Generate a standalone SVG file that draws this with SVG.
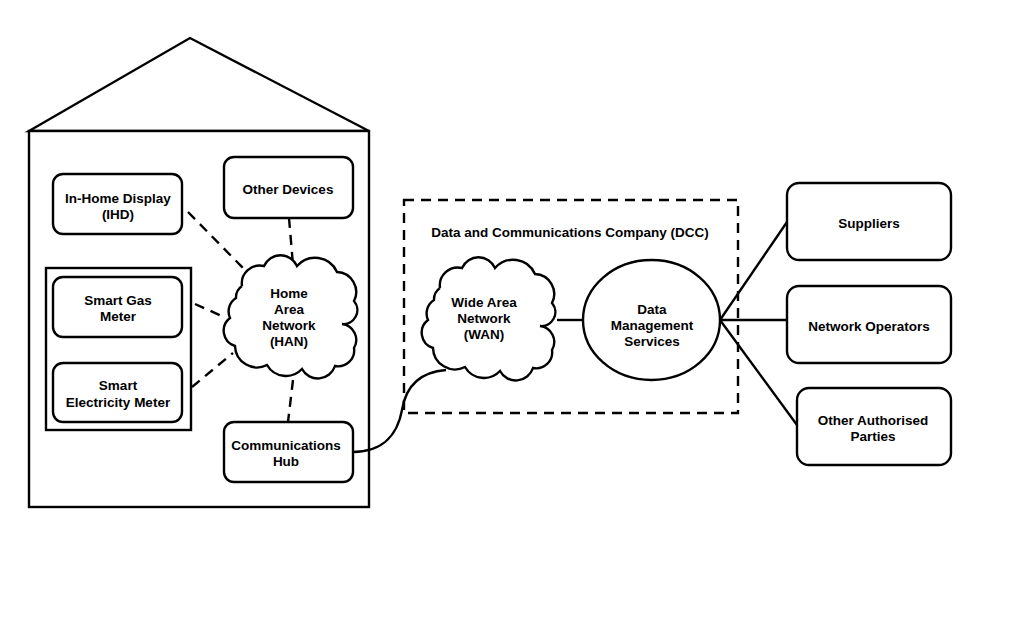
<svg xmlns="http://www.w3.org/2000/svg" xmlns:xlink="http://www.w3.org/1999/xlink" width="1019" height="624" viewBox="0 0 1019 624">
<style>
.s{fill:#fff;stroke:#000;stroke-width:2.4}
.n{fill:none;stroke:#000;stroke-width:2.4}
.d{fill:none;stroke:#000;stroke-width:2.4;stroke-dasharray:10 7}
text{font-family:"Liberation Sans",Arial,sans-serif;font-weight:bold;font-size:13.5px;fill:#000;text-anchor:middle}
</style>
<defs>
<path id="cloud" d="M-50,-30 A18,18 0 0 1 -28,-50 A18,18 0 0 1 5,-50 A24,24 0 0 1 45,-44 A20,20 0 0 1 62,-15 A14,14 0 0 1 50,8 M50,8 A16,16 0 0 1 62,32 A16,16 0 0 1 43,50 A18,18 0 0 1 10,53 A22,22 0 0 1 -25,49 A22,22 0 0 1 -57,30 A16,16 0 0 1 -62,2 A16,16 0 0 1 -56,-18 A14,14 0 0 1 -50,-30"/>
</defs>
<rect width="1019" height="624" fill="#fff"/>
<g id="house">
<polygon class="s" points="29,131 190,38 369,131"/>
<rect class="s" x="29" y="131" width="340" height="376"/>
</g>
<g id="meters">
<rect class="s" x="46" y="268" width="145" height="162"/>
</g>
<g id="dcc">
<rect class="d" x="404" y="200" width="334" height="213"/>
<text x="570" y="237">Data and Communications Company (DCC)</text>
</g>
<g id="connectors">
<line class="d" x1="188" y1="212" x2="243" y2="268"/>
<line class="d" x1="289" y1="218" x2="293" y2="265"/>
<line class="d" x1="195" y1="304" x2="224" y2="317"/>
<line class="d" x1="192" y1="387" x2="233" y2="353"/>
<line class="d" x1="293" y1="380" x2="288" y2="422"/>
<path class="n" d="M353,452 C385,452 398,432 402,410 C406,385 420,372 446,370"/>
<line class="n" x1="557" y1="320" x2="583" y2="320"/>
<line class="n" x1="720" y1="320" x2="787" y2="222"/>
<line class="n" x1="720" y1="320" x2="787" y2="320"/>
<line class="n" x1="720" y1="320" x2="797" y2="425"/>
</g>
<g id="ihd">
<rect class="s" x="53" y="174" width="129" height="60" rx="10"/>
<text x="118" y="203">In-Home Display</text>
<text x="118" y="219">(IHD)</text>
</g>
<g id="other-devices">
<rect class="s" x="224" y="157" width="129" height="61" rx="10"/>
<text x="288" y="194">Other Devices</text>
</g>
<g id="gas-meter">
<rect class="s" x="53" y="277" width="129" height="60" rx="10"/>
<text x="118" y="305">Smart Gas</text>
<text x="118" y="321">Meter</text>
</g>
<g id="elec-meter">
<rect class="s" x="53" y="363" width="129" height="59" rx="10"/>
<text x="118" y="390">Smart</text>
<text x="118" y="407">Electricity Meter</text>
</g>
<g id="hub">
<rect class="s" x="224" y="422" width="129" height="60" rx="10"/>
<text x="286" y="450">Communications</text>
<text x="286" y="466">Hub</text>
</g>
<g id="han">
<use xlink:href="#cloud" href="#cloud" class="s" transform="translate(292,316)"/>
<text x="289" y="298">Home</text>
<text x="289" y="314">Area</text>
<text x="289" y="330">Network</text>
<text x="289" y="346">(HAN)</text>
</g>
<g id="wan">
<use xlink:href="#cloud" href="#cloud" class="s" transform="translate(490,318)"/>
<text x="484" y="307">Wide Area</text>
<text x="484" y="323">Network</text>
<text x="484" y="339">(WAN)</text>
</g>
<g id="dms">
<ellipse class="s" cx="651.5" cy="320" rx="68.5" ry="60"/>
<text x="652" y="314">Data</text>
<text x="652" y="330">Management</text>
<text x="652" y="346">Services</text>
</g>
<g id="suppliers">
<rect class="s" x="787" y="183" width="164" height="77" rx="12"/>
<text x="869" y="228">Suppliers</text>
</g>
<g id="network-operators">
<rect class="s" x="787" y="286" width="164" height="77" rx="12"/>
<text x="869" y="331">Network Operators</text>
</g>
<g id="other-parties">
<rect class="s" x="797" y="388" width="154" height="77" rx="12"/>
<text x="873" y="425">Other Authorised</text>
<text x="873" y="441">Parties</text>
</g>
</svg>
